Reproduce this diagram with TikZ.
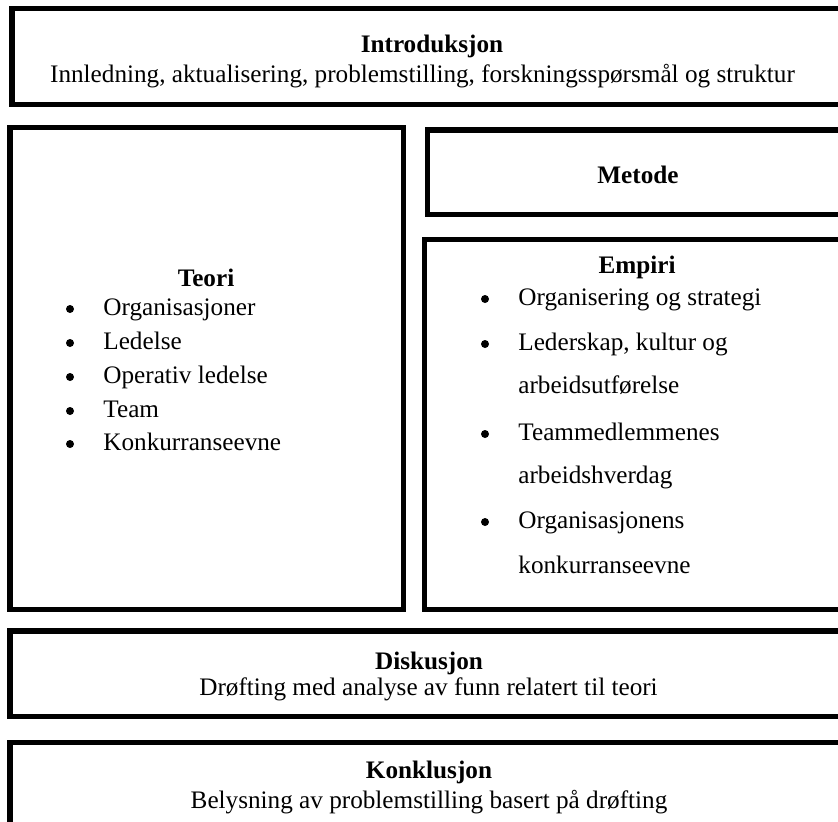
\documentclass[tikz,border=0pt]{standalone}
\usepackage{fontspec}
\setmainfont{Liberation Serif}
\usepackage{tikz}

\tikzset{
    boks/.style={line width=2.6pt},
    tittel/.style={font=\fontsize{12.6pt}{15pt}\selectfont\bfseries, anchor=base, inner sep=0pt},
    tekst/.style={font=\fontsize{12.6pt}{15pt}\selectfont, anchor=base, inner sep=0pt},
    punkt/.style={tekst, anchor=base west},
}

\begin{document}
\begin{tikzpicture}[x=0.5pt,y=-0.5pt]
    \clip (0,0) rectangle (838,821);

    % boksene
    \draw[boks] (12,8.5) rectangle (860,104.5);
    \draw[boks] (10,127.5) rectangle (403.5,609.5);
    \draw[boks] (427.5,130) rectangle (860,214.5);
    \draw[boks] (424.5,239.5) rectangle (860,609.5);
    \draw[boks] (10,631) rectangle (860,716.5);
    \draw[boks] (10,742.5) rectangle (860,850);

    % introduksjon
    \node[tittel] (intro) at (432,52) {Introduksjon};
    \node[tekst] (introtekst) at (422.5,82) {Innledning, aktualisering, problemstilling, forskningsspørsmål og struktur};

    % teori
    \node[tittel] (teori) at (206,286) {Teori};
    \foreach \y/\txt [count=\i] in {315/Organisasjoner, 349/Ledelse, 383/Operativ ledelse, 417/Team, 450/Konkurranseevne} {
        \fill (70,\y-6) circle (2pt);
        \node[punkt] (teori\i) at (103,\y) {\txt};
    }

    % metode
    \node[tittel] (metode) at (638,183) {Metode};

    % empiri
    \node[tittel] (empiri) at (637,273) {Empiri};
    \foreach \y/\txt [count=\i] in {305/Organisering og strategi, 350/{Lederskap, kultur og}, 393/arbeidsutførelse, 440/Teammedlemmenes, 483/arbeidshverdag, 528/Organisasjonens, 573/konkurranseevne} {
        \node[punkt] (empiri\i) at (518,\y) {\txt};
    }
    \foreach \y in {305,350,440,528} {
        \fill (485,\y-6) circle (2pt);
    }

    % diskusjon
    \node[tittel] (diskusjon) at (429,669) {Diskusjon};
    \node[tekst] (diskusjontekst) at (428.5,695) {Drøfting med analyse av funn relatert til teori};

    % konklusjon
    \node[tittel] (konklusjon) at (429,778) {Konklusjon};
    \node[tekst] (konklusjontekst) at (429,808) {Belysning av problemstilling basert på drøfting};
\end{tikzpicture}
\end{document}
